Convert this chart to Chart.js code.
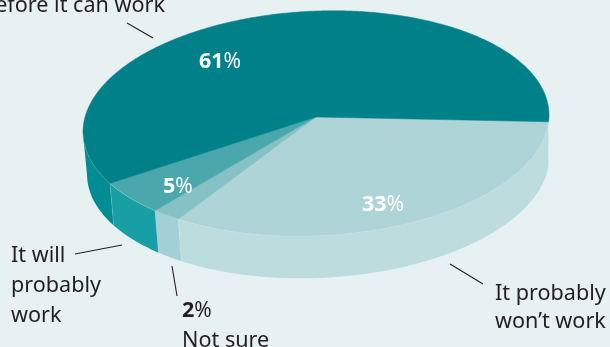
<!DOCTYPE html>
<html>
<head>
<meta charset="utf-8">
<title>Pie</title>
<script src="https://cdn.jsdelivr.net/npm/chart.js@4"></script>
<style>
  html, body { margin: 0; padding: 0; background: #e8f1f2; overflow: hidden; }
  #wrap { width: 610px; height: 347px; }
</style>
</head>
<body>
<div id="wrap"><canvas id="pie" width="610" height="347"></canvas></div>
<script>
// slices run clockwise from the right hand edge of the disc
const categories = ['It probably won\u2019t work', 'Not sure', 'It will probably work', 'before it can work'];
const shares = [33, 2, 5, 61];
const topColors = ['#afd4d7', '#85c1c5', '#4aa8ad', '#00818a'];
const wallColors = ['#bcdcde', '#a2d0d5', '#189fa5', '#008c92'];

// disc geometry: centre, radii, perspective, tilt and thickness
const disc = { cx: 316, cy: 117, rx: 232.6, ry: 112.1, persp: 0.058, tilt: 0.036, depth: 42, right: 549, shrink: 0.0086 };
const FONT = '"Noto Sans", sans-serif';
const INK = '#231f20';
const SEAM = 'rgba(255,255,255,0.25)';

function project(a) {
  const u = Math.cos(a), v = Math.sin(a), w = 1 - disc.persp * v;
  const dx = disc.rx * u / w;
  return [disc.cx + dx, disc.cy + disc.ry * v / w - disc.tilt * dx];
}

// same rim on the underside: lower by the thickness and a little narrower
function projectBottom(a) {
  const p = project(a);
  return [p[0] + (disc.right - p[0]) * disc.shrink, p[1] + disc.depth];
}

function traceRim(ctx, from, to, proj) {
  const steps = Math.max(2, Math.ceil(Math.abs(to - from) / 0.01));
  for (let i = 0; i <= steps; i++) {
    const p = proj(from + (to - from) * i / steps);
    ctx.lineTo(p[0], p[1]);
  }
}

// only the part of the rim facing the viewer gets a wall
function drawWall(ctx, start, end, color) {
  const lo = 6 * Math.PI / 180, hi = 176 * Math.PI / 180;
  const from = Math.max(start, lo), to = Math.min(end, hi);
  if (to <= from) return;
  ctx.beginPath();
  traceRim(ctx, from, to, project);
  traceRim(ctx, to, from, projectBottom);
  ctx.closePath();
  ctx.fillStyle = color;
  ctx.fill();
  // faint seam where two walls meet
  const a = project(from), b = projectBottom(from);
  ctx.beginPath();
  ctx.moveTo(a[0], a[1]);
  ctx.lineTo(b[0], b[1]);
  ctx.strokeStyle = SEAM;
  ctx.lineWidth = 0.7;
  ctx.stroke();
}

function drawTop(ctx, start, end, color) {
  ctx.beginPath();
  ctx.moveTo(disc.cx, disc.cy);
  traceRim(ctx, start, end, project);
  ctx.closePath();
  ctx.fillStyle = color;
  ctx.strokeStyle = color;
  ctx.lineWidth = 0.5;
  ctx.fill();
  ctx.stroke();
}

// hairline along the front edge of the top face
function drawRimLine(ctx, start, end) {
  const from = Math.max(start, 6 * Math.PI / 180), to = Math.min(end, 176 * Math.PI / 180);
  if (to <= from) return;
  ctx.beginPath();
  traceRim(ctx, from, to, project);
  ctx.strokeStyle = SEAM;
  ctx.lineWidth = 0.7;
  ctx.stroke();
}

// replaces the flat arcs with a thick tilted disc, using the angles of the arc elements
const tiltedDisc = {
  id: 'tiltedDisc',
  beforeDatasetDraw(chart, args) {
    const ctx = chart.ctx, arcs = chart.getDatasetMeta(args.index).data;
    ctx.save();
    arcs.forEach((arc, i) => drawWall(ctx, arc.startAngle, arc.endAngle, wallColors[i]));
    arcs.forEach((arc, i) => drawTop(ctx, arc.startAngle, arc.endAngle, topColors[i]));
    arcs.forEach(arc => drawRimLine(ctx, arc.startAngle, arc.endAngle));
    ctx.restore();
    return false;
  }
};

// bold number followed by a lighter percent sign
function percent(ctx, value, x, y, color) {
  ctx.fillStyle = color;
  ctx.textAlign = 'left';
  ctx.font = 'bold 21.5px ' + FONT;
  const txt = String(value);
  ctx.fillText(txt, x, y);
  const w = ctx.measureText(txt).width;
  ctx.font = '21px ' + FONT;
  ctx.fillText('%', x + w, y);
}

const leaders = [[127, 23, 153, 38], [75, 254, 122, 245], [172, 266, 177, 296], [450, 264, 483, 284]];

const annotations = {
  id: 'annotations',
  afterDraw(chart) {
    const ctx = chart.ctx;
    ctx.save();
    ctx.textBaseline = 'alphabetic';
    percent(ctx, shares[3], 199, 68, '#ffffff');
    percent(ctx, shares[2], 163, 193, '#ffffff');
    percent(ctx, shares[0], 362, 211, '#ffffff');
    percent(ctx, shares[1], 182, 317, INK);

    ctx.strokeStyle = INK;
    ctx.lineWidth = 1.1;
    leaders.forEach(l => {
      ctx.beginPath();
      ctx.moveTo(l[0], l[1]);
      ctx.lineTo(l[2], l[3]);
      ctx.stroke();
    });

    ctx.fillStyle = INK;
    ctx.font = '21.6px ' + FONT;
    ctx.textAlign = 'right';
    ctx.fillText(categories[3], 165, 12);
    ctx.textAlign = 'left';
    ctx.fillText('It will', 11, 262);
    ctx.fillText('probably', 11, 292);
    ctx.fillText('work', 11, 322);
    ctx.fillText(categories[1], 182, 347);
    ctx.fillText('It probably', 495, 300);
    ctx.fillText('won\u2019t work', 495, 328);
    ctx.restore();
  }
};

new Chart(document.getElementById('pie'), {
  type: 'pie',
  data: {
    labels: categories,
    datasets: [{ data: shares, backgroundColor: topColors, borderWidth: 0 }]
  },
  options: {
    responsive: false,
    animation: false,
    rotation: 96.7,
    plugins: { legend: { display: false }, tooltip: { enabled: false } }
  },
  plugins: [tiltedDisc, annotations]
});
</script>
</body>
</html>
